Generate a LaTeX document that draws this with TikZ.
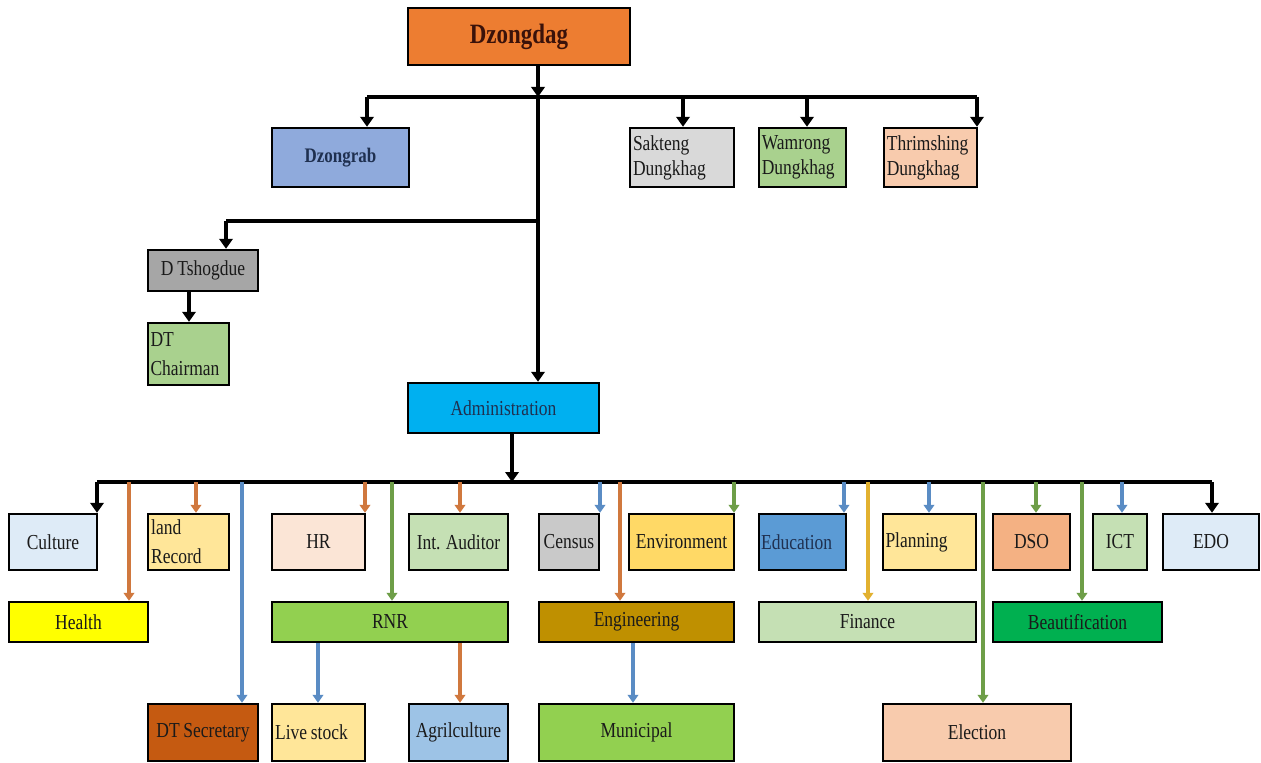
\documentclass[tikz,border=0pt]{standalone}
\usepackage{fontspec}
\setmainfont{Liberation Serif}[FakeStretch=0.82,WordSpace=0.85]
\usetikzlibrary{arrows.meta}

% box fills
\definecolor{fDzongdag}{HTML}{ED7D31}
\definecolor{fDzongrab}{HTML}{8FAADC}
\definecolor{fGrayL}{HTML}{D9D9D9}
\definecolor{fGrayM}{HTML}{A6A6A6}
\definecolor{fGrayC}{HTML}{C9C9C9}
\definecolor{fGreenL}{HTML}{A9D18E}
\definecolor{fGreenP}{HTML}{C5E0B4}
\definecolor{fPeach}{HTML}{F8CBAD}
\definecolor{fPeachL}{HTML}{FBE5D6}
\definecolor{fCyan}{HTML}{00B0F0}
\definecolor{fBlueL}{HTML}{DEEBF7}
\definecolor{fBlueM}{HTML}{9DC3E6}
\definecolor{fBlueD}{HTML}{5B9BD5}
\definecolor{fCream}{HTML}{FFE699}
\definecolor{fGold}{HTML}{FFD966}
\definecolor{fSalmon}{HTML}{F4B183}
\definecolor{fYellow}{HTML}{FFFF00}
\definecolor{fLime}{HTML}{92D050}
\definecolor{fOchre}{HTML}{BF9000}
\definecolor{fEmerald}{HTML}{00B050}
\definecolor{fRust}{HTML}{C55A11}
% text and connector colours
\definecolor{tDark}{HTML}{1A1A1A}
\definecolor{tNavy}{HTML}{1F3050}
\definecolor{tMaroon}{HTML}{3A120A}
\definecolor{aOrange}{HTML}{D0783E}
\definecolor{aBlue}{HTML}{5A8CC4}
\definecolor{aGreen}{HTML}{6E9E48}
\definecolor{aGold}{HTML}{E2B130}

% \orgbox[options]{name}{x}{y}{width}{height}{text}, all in pixels from the top left
\newcommand\orgbox[7][]{%
  \node[orgbox,minimum width=#5*0.75pt,minimum height=#6*0.75pt,#1] (#2) at ({#3+#5/2},{#4+#6/2}) {#7};}

\begin{document}
\begin{tikzpicture}[x=0.75pt,y=-0.75pt,
  orgbox/.style={draw=black,line width=1.8pt,inner sep=0pt,text=tDark,
    font=\fontsize{16}{19}\selectfont},
  leftbox/.style={align=flush left,text width=#1},
  busline/.style={draw=black,line width=2.3pt},
  blackarrow/.style={draw=black,line width=3.6pt,-{Triangle[width=10pt,length=7.5pt]}},
  colarrow/.style={draw=#1,line width=3pt,-{Triangle[width=8pt,length=6pt]}}]

\fill[white] (0,0) rectangle (1261,763);
\useasboundingbox (0,0) rectangle (1261,763);

% top level
\orgbox[fill=fDzongdag,text=tMaroon,font=\fontsize{21}{24}\selectfont\bfseries]{dzongdag}{408}{8}{222}{57}{Dzongdag}
\orgbox[fill=fDzongrab,text=tNavy,font=\fontsize{15.5}{18}\selectfont\bfseries]{dzongrab}{272}{128}{137}{59}{Dzongrab}
\orgbox[fill=fGrayL,leftbox=73.5pt,font=\fontsize{16}{18.75}\selectfont]{sakteng}{630}{128}{104}{59}{Sakteng\\Dungkhag}
\orgbox[fill=fGreenL,leftbox=61pt,font=\fontsize{16}{18.75}\selectfont]{wamrong}{759}{128}{87}{59}{Wamrong\\Dungkhag}
\orgbox[fill=fPeach,leftbox=65.5pt,font=\fontsize{16}{18.75}\selectfont]{thrimshing}{884}{128}{93}{59}{Thrimshing\\Dungkhag}
\orgbox[fill=fGrayM]{tshogdue}{148}{250}{110}{41}{D Tshogdue}
\orgbox[fill=fGreenL,leftbox=57pt,font=\fontsize{16}{22}\selectfont]{chairman}{148}{323}{81}{62}{DT\\Chairman}
\orgbox[fill=fCyan,text=tNavy]{admin}{408}{383}{191}{50}{Administration}

% first row of sections
\orgbox[fill=fBlueL]{culture}{9}{514}{88}{56}{Culture}
\orgbox[fill=fCream,leftbox=56pt,font=\fontsize{16}{22}\selectfont]{landrec}{148}{514}{81}{56}{land\\Record}
\orgbox[fill=fPeachL]{hr}{272}{514}{93}{56}{HR}
\orgbox[fill=fGreenP]{auditor}{409}{514}{99}{56}{Int. Auditor}
\orgbox[fill=fGrayC]{census}{539}{514}{60}{56}{Census}
\orgbox[fill=fGold]{environment}{629}{514}{105}{56}{Environment}
\orgbox[fill=fBlueD,text=tNavy,leftbox=62pt]{education}{759}{514}{87}{56}{Education}
\orgbox[fill=fCream,leftbox=66pt]{planning}{883}{514}{93}{56}{Planning}
\orgbox[fill=fSalmon]{dso}{993}{514}{77}{56}{DSO}
\orgbox[fill=fGreenP]{ict}{1093}{514}{54}{56}{ICT}
\orgbox[fill=fBlueL]{edo}{1163}{514}{96}{56}{EDO}

% second row
\orgbox[fill=fYellow]{health}{9}{602}{139}{40}{Health}
\orgbox[fill=fLime]{rnr}{272}{602}{236}{40}{RNR}
\orgbox[fill=fOchre]{engineering}{539}{602}{195}{40}{Engineering}
\orgbox[fill=fGreenP]{finance}{759}{602}{217}{40}{Finance}
\orgbox[fill=fEmerald]{beautification}{993}{602}{169}{40}{Beautification}

% third row
\orgbox[fill=fRust]{dtsecretary}{148}{704}{110}{57}{DT Secretary}
\orgbox[fill=fCream,leftbox=65pt]{livestock}{272}{704}{93}{57}{Live stock}
\orgbox[fill=fBlueM]{agri}{409}{704}{99}{57}{Agrilculture}
\orgbox[fill=fLime]{municipal}{539}{704}{195}{57}{Municipal}
\orgbox[fill=fPeach]{election}{883}{704}{188}{57}{Election}

% upper bus and drops
\coordinate (hub) at (538,97);
\coordinate (tbusL) at (367,97);
\coordinate (tbusR) at (977,97);
\coordinate (d-sakteng) at (683,97);
\coordinate (d-wamrong) at (807,97);
\draw[busline] (tbusL) -- (tbusR);
\draw[blackarrow] (hub |- dzongdag.south) -- (hub);
\draw[blackarrow] (tbusL) -- (tbusL |- dzongrab.north);
\draw[blackarrow] (d-sakteng) -- (d-sakteng |- sakteng.north);
\draw[blackarrow] (d-wamrong) -- (d-wamrong |- wamrong.north);
\draw[blackarrow] (tbusR) -- (tbusR |- thrimshing.north);

% trunk down to Administration, branch to the Tshogdue
\coordinate (branch) at (538,221);
\coordinate (d-tshog) at (226,221);
\draw[blackarrow] (hub) -- (hub |- admin.north);
\draw[busline] (branch) -- (d-tshog);
\draw[blackarrow] (d-tshog) -- (d-tshog |- tshogdue.north);
\coordinate (d-chair) at (189,291);
\draw[blackarrow] (d-chair |- tshogdue.south) -- (d-chair |- chairman.north);

% lower bus
\coordinate (abus) at (512,482);
\coordinate (bbusL) at (97,482);
\coordinate (bbusR) at (1212,482);
\draw[busline] (bbusL) -- (bbusR);
\draw[blackarrow] (abus |- admin.south) -- (abus);
\draw[blackarrow] (bbusL) -- (bbusL |- culture.north);
\draw[blackarrow] (bbusR) -- (bbusR |- edo.north);

% coloured drops from the lower bus
\foreach \px/\tgt/\col in {129/health/aOrange, 196/landrec/aOrange, 242/dtsecretary/aBlue,
    365/hr/aOrange, 392/rnr/aGreen, 460/auditor/aOrange, 600/census/aBlue,
    620/engineering/aOrange, 734/environment/aGreen, 844/education/aBlue,
    868/finance/aGold, 929/planning/aBlue, 983/election/aGreen, 1036/dso/aGreen,
    1082/beautification/aGreen, 1122/ict/aBlue}{
  \coordinate (drop-\tgt) at (\px,482);
  \draw[colarrow=\col] (drop-\tgt) -- (drop-\tgt |- \tgt.north);
}

% sub-sections
\coordinate (s-live) at (318,642);
\coordinate (s-agri) at (460,642);
\coordinate (s-muni) at (633,642);
\draw[colarrow=aBlue] (s-live |- rnr.south) -- (s-live |- livestock.north);
\draw[colarrow=aOrange] (s-agri |- rnr.south) -- (s-agri |- agri.north);
\draw[colarrow=aBlue] (s-muni |- engineering.south) -- (s-muni |- municipal.north);
\end{tikzpicture}
\end{document}
